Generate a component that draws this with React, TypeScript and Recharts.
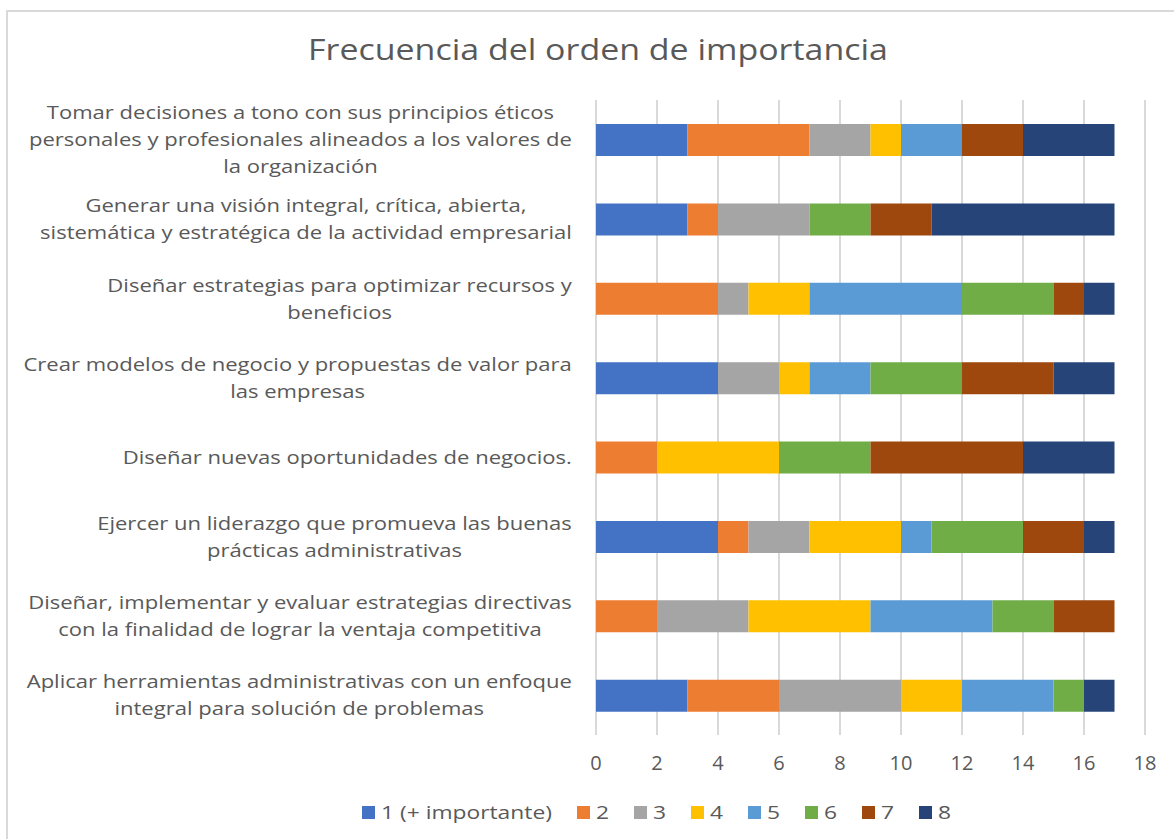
import { BarChart, Bar, XAxis, YAxis, CartesianGrid, Legend } from "recharts";

const categories = [
    "Tomar decisiones a tono con sus principios éticos\npersonales y profesionales alineados a los valores de\nla organización",
    "Generar una visión integral, crítica, abierta,\nsistemática y estratégica de la actividad empresarial",
    "Diseñar estrategias para optimizar recursos y\nbeneficios",
    "Crear modelos de negocio y propuestas de valor para\nlas empresas",
    "Diseñar nuevas oportunidades de negocios.",
    "Ejercer un liderazgo que promueva las buenas\nprácticas administrativas",
    "Diseñar, implementar y evaluar estrategias directivas\ncon la finalidad de lograr la ventaja competitiva",
    "Aplicar herramientas administrativas con un enfoque\nintegral para solución de problemas",
];

const seriesNames = ["1 (+ importante)", "2", "3", "4", "5", "6", "7", "8"];
const seriesColors = ["#4472C4", "#ED7D31", "#A5A5A5", "#FFC000", "#5B9BD5", "#70AD47", "#9E480E", "#264478"];

const rank1 = [3, 3, 0, 4, 0, 4, 0, 3];
const rank2 = [4, 1, 4, 0, 2, 1, 2, 3];
const rank3 = [2, 3, 1, 2, 0, 2, 3, 4];
const rank4 = [1, 0, 2, 1, 4, 3, 4, 2];
const rank5 = [2, 0, 5, 2, 0, 1, 4, 3];
const rank6 = [0, 2, 3, 3, 3, 3, 2, 1];
const rank7 = [2, 2, 1, 3, 5, 2, 2, 0];
const rank8 = [3, 6, 1, 2, 3, 1, 0, 1];

const xTicks = [0, 2, 4, 6, 8, 10, 12, 14, 16, 18];

const seriesValues = [rank1, rank2, rank3, rank4, rank5, rank6, rank7, rank8];

const data = categories.map((name, i) => {
    const row: any = { name };
    seriesNames.forEach((s, k) => {
        row[s] = seriesValues[k][i];
    });
    return row;
});

const FONT = "'Open Sans', 'Noto Sans', sans-serif";
const TEXT = "#595959";
const LABEL_SIZE = 19;
const LABEL_STRETCH = 1.16; // the reference text is a bit wider than Open Sans
const LEGEND_SIZE = 19;
const LEGEND_STRETCH = 1.2;

let ctx: CanvasRenderingContext2D | null = null;
function textWidth(t: string, size: number) {
    if (!ctx) ctx = document.createElement("canvas").getContext("2d");
    if (!ctx) return t.length * size * 0.55;
    ctx.font = `${size}px 'Open Sans'`;
    return ctx.measureText(t).width;
}

function CategoryTick(props: any) {
    const { x, y, payload } = props;
    const lines: string[] = String(payload.value).split("\n");
    const blockW = Math.max(...lines.map((l) => textWidth(l, LABEL_SIZE))) * LABEL_STRETCH;
    const cx = x - blockW / 2;
    const lh = 27;
    const y0 = y - ((lines.length - 1) * lh) / 2;
    return (
        <g>
            {lines.map((l, i) => (
                <text key={i} transform={`translate(${cx},${y0 + i * lh}) scale(${LABEL_STRETCH},1)`}
                    dy="0.35em" textAnchor="middle" fill={TEXT} fontSize={LABEL_SIZE} fontFamily={FONT}>
                    {l}
                </text>
            ))}
        </g>
    );
}

function LegendBox(props: any) {
    const items = props.payload || [];
    return (
        <div style={{ display: "flex", alignItems: "center", height: 30, fontFamily: FONT, fontSize: LEGEND_SIZE, color: TEXT, whiteSpace: "nowrap" }}>
            {items.map((it: any) => (
                <div key={it.value} style={{ display: "flex", alignItems: "center", marginRight: 25 }}>
                    <span style={{ width: 13, height: 13, background: it.color, display: "inline-block", marginRight: 6 }} />
                    <span style={{ display: "inline-block", width: textWidth(it.value, LEGEND_SIZE) * LEGEND_STRETCH }}>
                        <span style={{ display: "inline-block", transform: `scaleX(${LEGEND_STRETCH})`, transformOrigin: "0 50%" }}>
                            {it.value}
                        </span>
                    </span>
                </div>
            ))}
        </div>
    );
}

export default function App() {
    return (
        <div style={{ position: "fixed", left: 0, top: 0, width: 1174, height: 839, overflow: "hidden", background: "#fff" }}>
            <div style={{ position: "absolute", left: 6, top: 10, width: 1200, height: 900, borderTop: "2px solid #d9d9d9", borderLeft: "2px solid #d9d9d9" }} />
            <div style={{ position: "absolute", left: 0, top: 29, width: 1196, textAlign: "center", fontFamily: FONT, fontSize: 29, color: TEXT, transform: "scaleX(1.17)", transformOrigin: "50% 50%" }}>
                Frecuencia del orden de importancia
            </div>
            <div style={{ position: "absolute", left: 0, top: 0 }}>
                <BarChart width={1174} height={839} data={data} layout="vertical" barSize={32}
                    margin={{ top: 100, right: 29, bottom: 34, left: 0 }}>
                    <CartesianGrid horizontal={false} stroke="#d9d9d9" strokeWidth={2} />
                    <XAxis type="number" domain={[0, 18]} ticks={xTicks} axisLine={false} tickLine={false}
                        tickSize={0} tickMargin={21} height={40}
                        tick={{ fill: TEXT, fontSize: 20, fontFamily: FONT }} />
                    <YAxis type="category" dataKey="name" width={596} axisLine={false} tickLine={false}
                        tickSize={0} tickMargin={24} tick={<CategoryTick />} interval={0} />
                    <Legend content={<LegendBox />} wrapperStyle={{ top: 797, left: 362, width: 800 }} />
                    {seriesNames.map((s, k) => (
                        <Bar key={s} dataKey={s} stackId="a" fill={seriesColors[k]} isAnimationActive={false} />
                    ))}
                </BarChart>
            </div>
        </div>
    );
}
